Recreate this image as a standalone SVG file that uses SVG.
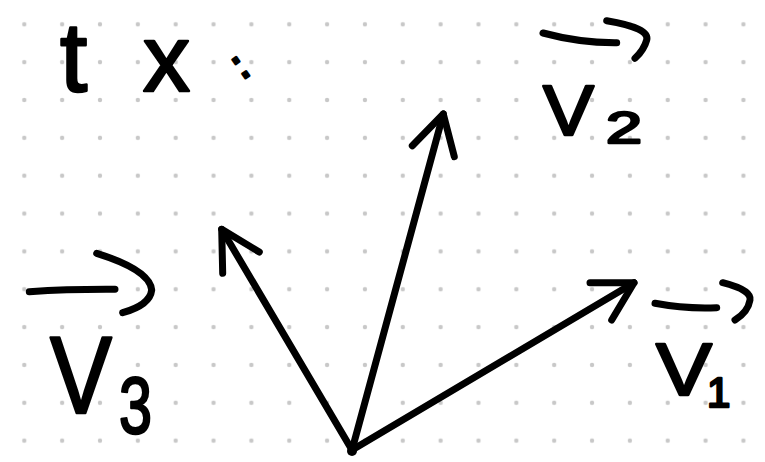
<svg xmlns="http://www.w3.org/2000/svg" width="765" height="462" viewBox="0 0 765 462">
  <style>
    .ink { fill: none; stroke: #000; stroke-width: 7; stroke-linecap: round; stroke-linejoin: round; }
    .hand { font-family: "Liberation Sans", Arial, sans-serif; fill: #000; stroke: #000; stroke-width: 2.5; stroke-linejoin: round; }
  </style>
  <defs>
    <pattern id="dots" x="5.375" y="5.375" width="37.85" height="37.85" patternUnits="userSpaceOnUse">
      <circle cx="18.925" cy="18.925" r="2.2" fill="#c8c8c8"/>
    </pattern>
  </defs>
  <rect width="765" height="462" fill="#fff"/>
  <rect width="765" height="462" fill="url(#dots)"/>

  <g id="title">
    <text class="hand" x="60" y="91" font-size="98" stroke-width="1">t</text>
    <text class="hand" x="143" y="91" font-size="94">x</text>
    <text class="hand" x="233.1" y="79.2" font-size="44" stroke-width="1" style="font-family:'DejaVu Sans', sans-serif" transform="rotate(-35 240.5 67.5)">:</text>
  </g>

  <g id="label-v2">
    <path class="ink" d="M543,33 Q580,43 616.7,42.7"/>
    <path class="ink" d="M606.7,20.7 Q650,28 646.7,40 Q644,50 635,58.3"/>
    <text class="hand" x="543" y="135" font-size="70" textLength="51" lengthAdjust="spacingAndGlyphs">V</text>
    <text class="hand" x="606" y="143" font-size="44" textLength="36" lengthAdjust="spacingAndGlyphs">2</text>
  </g>

  <g id="label-v3">
    <path class="ink" d="M29.3,291.7 Q70,289 115,289.3"/>
    <path class="ink" d="M96.7,253.3 Q150,270 151.7,290 Q150,305 122.7,312.7"/>
    <text class="hand" x="50" y="413" font-size="110" textLength="62" lengthAdjust="spacingAndGlyphs">V</text>
    <text class="hand" x="119" y="433" font-size="80" textLength="33" lengthAdjust="spacingAndGlyphs">3</text>
  </g>

  <g id="label-v1">
    <path class="ink" d="M655,303.3 Q685,309 716.7,307.7"/>
    <path class="ink" d="M722.7,282.7 Q752,290 750,300 Q748,312 735,320"/>
    <text class="hand" x="656" y="395" font-size="74" textLength="56" lengthAdjust="spacingAndGlyphs">V</text>
    <text class="hand" x="707" y="407" font-size="42">1</text>
  </g>

  <g id="connectors">
    <line class="ink" x1="352" y1="450" x2="443.3" y2="114"/>
    <polyline class="ink" points="412.3,145.7 443.3,114 454.3,156.7"/>
    <line class="ink" x1="352" y1="450" x2="221.7" y2="229.3"/>
    <polyline class="ink" points="222.7,273.3 221.7,229.3 259.3,252"/>
    <line class="ink" x1="352" y1="450" x2="634" y2="282.7"/>
    <polyline class="ink" points="590,282.7 634,282.7 611.7,320"/>
  </g>
  <g id="origin">
    <circle cx="352" cy="451" r="5" fill="#000"/>
  </g>
</svg>
